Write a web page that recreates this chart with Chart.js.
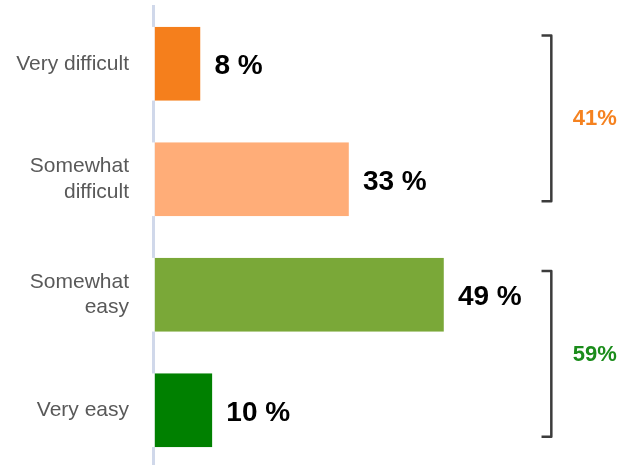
<!DOCTYPE html>
<html>
<head>
<meta charset="utf-8">
<script src="https://cdn.jsdelivr.net/npm/chart.js@4/dist/chart.umd.min.js"></script>
<style>
  html, body { margin: 0; padding: 0; background: #ffffff; overflow: hidden; }
  #wrap { position: relative; width: 619px; height: 468px; }
</style>
</head>
<body>
<div id="wrap"><canvas id="c"></canvas></div>
<script>
// ---- data ----
const categories = [['Very difficult'], ['Somewhat', 'difficult'], ['Somewhat', 'easy'], ['Very easy']];
const values = [8, 33, 49, 10];
const groupLabels = ['41%', '59%'];
const groupMembers = [[0, 1], [2, 3]];

// ---- styling ----
const barColors = ['#F57F1C', '#FFAD78', '#7AA838', '#008000'];
const groupColors = ['#F58220', '#1B8C1B'];
const FONT = '"Liberation Sans", Arial, sans-serif';

const valueLabels = {
  id: 'valueLabels',
  afterDatasetsDraw(chart) {
    const ctx = chart.ctx;
    const meta = chart.getDatasetMeta(0);
    ctx.save();
    ctx.font = 'bold 28px ' + FONT;
    ctx.fillStyle = '#000000';
    ctx.textAlign = 'left';
    ctx.textBaseline = 'middle';
    meta.data.forEach((el, i) => {
      ctx.fillText(values[i] + ' %', el.x + 14, el.y + 3);
    });
    ctx.restore();
  }
};

const brackets = {
  id: 'brackets',
  afterDatasetsDraw(chart, args, opts) {
    const ctx = chart.ctx;
    const xs = chart.scales.x, ys = chart.scales.y;
    ctx.save();
    groupMembers.forEach((g, k) => {
      const pad = opts.pads[k];
      const y1 = ys.getPixelForValue(g[0] - pad[0]);
      const y2 = ys.getPixelForValue(g[g.length - 1] + pad[1]);
      const xl = xs.getPixelForValue(opts.lineX);
      const xt = xs.getPixelForValue(opts.lineX - opts.tick);
      ctx.beginPath();
      ctx.moveTo(xt, y1);
      ctx.lineTo(xl, y1);
      ctx.lineTo(xl, y2);
      ctx.lineTo(xt, y2);
      ctx.lineWidth = 2.5;
      ctx.lineJoin = 'round';
      ctx.strokeStyle = '#3c3c3c';
      ctx.stroke();
      ctx.font = 'bold 22px ' + FONT;
      ctx.fillStyle = groupColors[k];
      ctx.textAlign = 'left';
      ctx.textBaseline = 'middle';
      ctx.fillText(groupLabels[k], xs.getPixelForValue(opts.labelX), (y1 + y2) / 2 + 1);
    });
    ctx.restore();
  }
};

new Chart(document.getElementById('c'), {
  type: 'bar',
  data: {
    labels: categories,
    datasets: [{
      data: values,
      backgroundColor: barColors,
      borderColor: '#ffffff',
      borderWidth: { left: 3, top: 0, right: 0, bottom: 0 },
      borderSkipped: false,
      base: -0.2,
      clip: false,
      categoryPercentage: 1,
      barPercentage: 0.64
    }]
  },
  options: {
    indexAxis: 'y',
    responsive: true,
    maintainAspectRatio: false,
    animation: false,
    layout: { padding: { top: 6, right: 0, bottom: 0, left: 0 } },
    scales: {
      x: {
        display: false,
        min: 0,
        max: 78.5
      },
      y: {
        grid: { display: false, drawTicks: false },
        border: { display: true, color: '#D0D8EA', width: 3 },
        ticks: {
          color: '#595959',
          font: { family: FONT, size: 21, lineHeight: 1.2 },
          padding: 24
        },
        afterFit(scale) {
          scale.width = 153;
          scale.paddingTop = 0;
          scale.paddingBottom = 0;
        }
      }
    },
    plugins: {
      legend: { display: false },
      tooltip: { enabled: false },
      brackets: { lineX: 67.1, tick: 1.65, labelX: 70.7, pads: [[0.245, 0.19], [0.205, 0.23]] }
    }
  },
  plugins: [valueLabels, brackets]
});
</script>
</body>
</html>
